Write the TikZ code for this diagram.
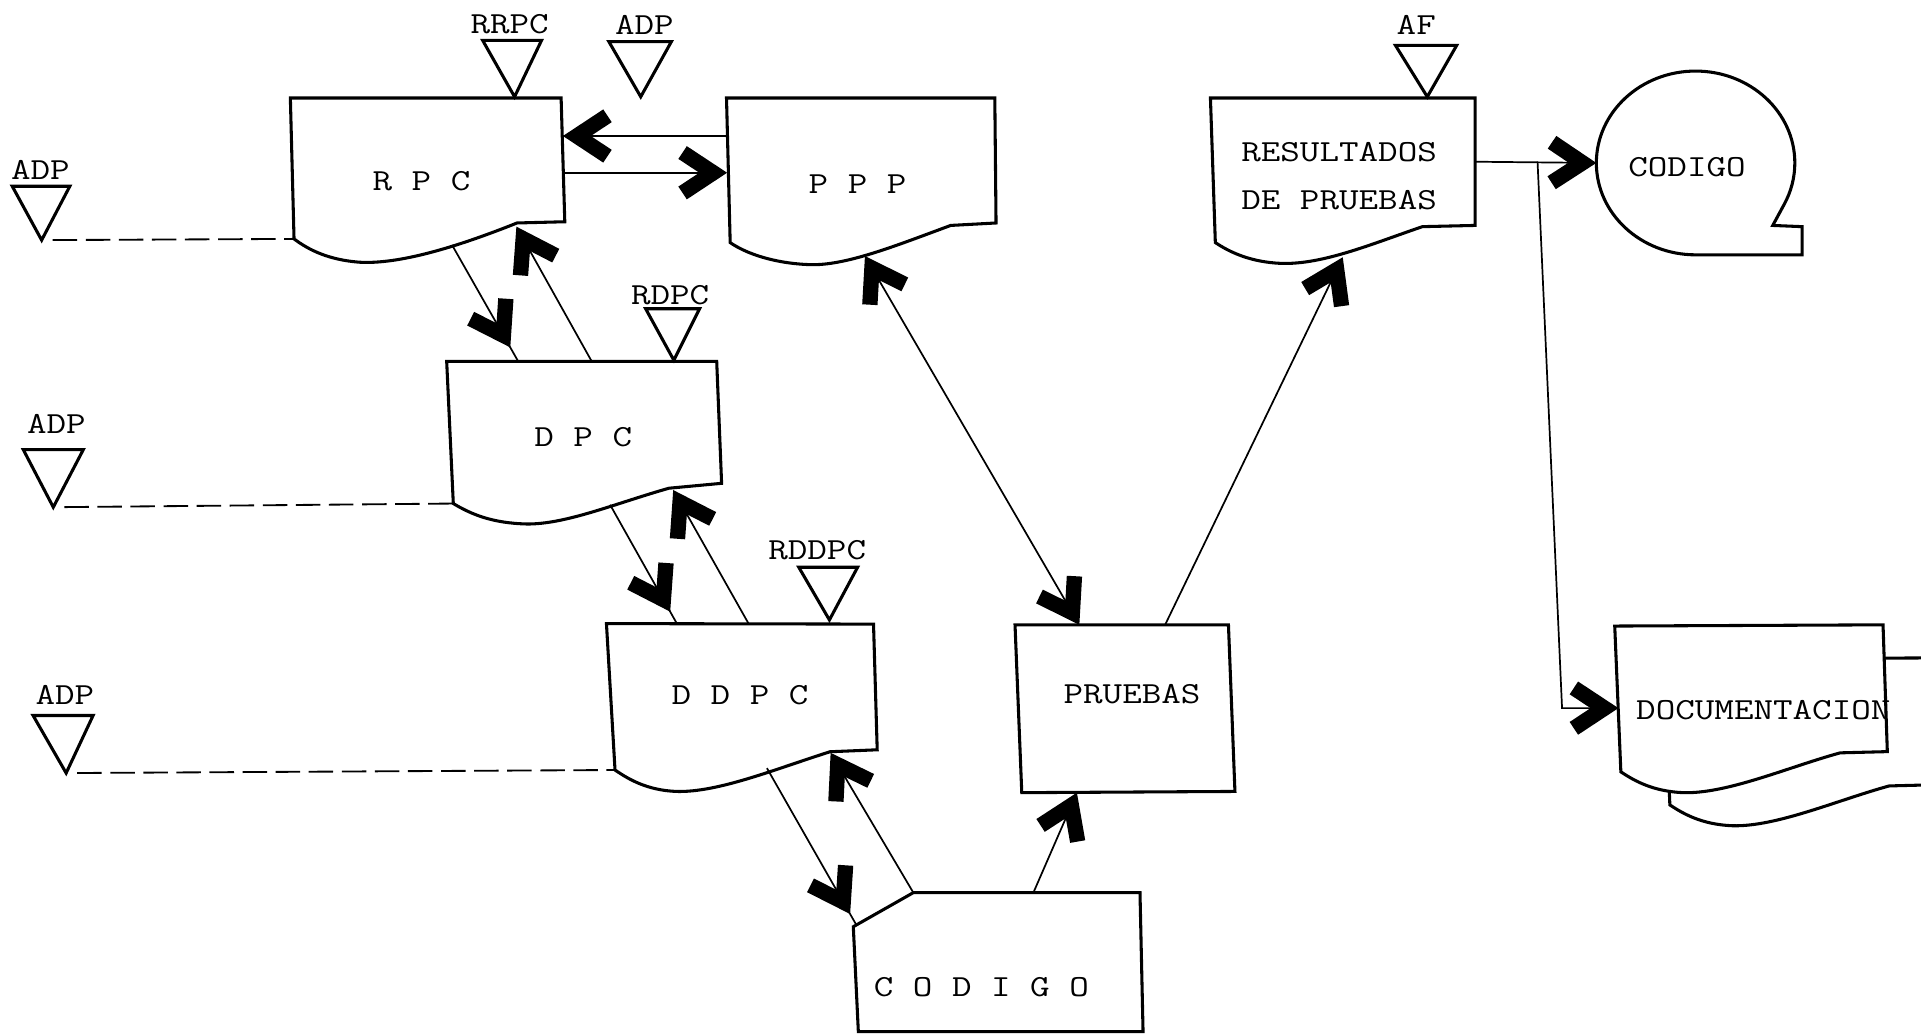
\documentclass[tikz,border=0pt]{standalone}
\usetikzlibrary{arrows.meta,decorations.markings}
\newcommand\stretchtxt[1]{\scalebox{1.24}[1]{#1}}
\tikzset{
  bigtip/.tip={Straight Barb[sharp,length=25pt,width=33pt,line width=12.5pt]},
  docbox/.style={line width=2.5pt, line join=miter, fill=white},
  conn/.style={line width=1.4pt},
  dashln/.style={line width=1.5pt, dash pattern=on 20pt off 7pt, shorten <=9pt},
  tri/.style={line width=2.5pt, line join=miter},
  lbl/.style={font=\fontsize{25}{28}\selectfont\ttfamily, inner sep=0pt},
  txt/.style={font=\fontsize{25}{39}\selectfont\ttfamily, inner sep=0pt, align=left},
  tipat/.style={postaction={decorate}, decoration={markings, mark=at position #1 with {\arrow{bigtip}}}},
}
\begin{document}
\begin{tikzpicture}[x=1pt,y=-1pt]
\useasboundingbox (0,0) rectangle (1568,844);
\clip (0,0) rectangle (1568,844);
\fill[white] (0,0) rectangle (1568,844);

% ---------- document boxes ----------
% RPC
\draw[docbox] (237,80) -- (458,80) -- (461,181) -- (422,182)
  .. controls (372,202) and (325,216) .. (293,214)
  .. controls (268,212) and (252,204) .. (240,195) -- cycle;
\node[txt] (rpc) at (344,148) {\stretchtxt{R P C}};
% PPP
\draw[docbox] (593,80) -- (812,80) -- (813,182) -- (776,184)
  .. controls (730,201) and (690,217) .. (661,216)
  .. controls (632,215) and (609,207) .. (596,198) -- cycle;
\node[txt] (ppp) at (700,150) {\stretchtxt{P P P}};
% RESULTADOS DE PRUEBAS
\draw[docbox] (988,80) -- (1204,80) -- (1204,184) -- (1161,185)
  .. controls (1120,199) and (1080,216) .. (1046,215)
  .. controls (1021,214) and (1004,206) .. (992,198) -- cycle;
\node[txt] (res) at (1093,143.5) {\stretchtxt{RESULTADOS}\\\stretchtxt{DE PRUEBAS}};
% DPC
\draw[docbox] (364.6,295) -- (585,295) -- (589,394.5) -- (546,398.5)
  .. controls (502,411) and (462,428) .. (430,427.7)
  .. controls (402,427) and (385,420) .. (370,411) -- cycle;
\node[txt] (dpc) at (476,356.4) {\stretchtxt{D P C}};
% DDPC
\draw[docbox] (495,509) -- (713,509.4) -- (716,612) -- (677.5,613.6)
  .. controls (632,628) and (586,647) .. (552,646)
  .. controls (528,645) and (513,636) .. (502,628.5) -- cycle;
\node[txt] (ddpc) at (604,567) {\stretchtxt{D D P C}};
% CODIGO (card)
\draw[docbox] (745.5,728.6) -- (930.5,728.6) -- (933,842) -- (700.6,842) -- (696.5,756.4) -- cycle;
\node[txt] (codb) at (801,805.4) {\stretchtxt{C O D I G O}};
% PRUEBAS
\draw[docbox] (828.5,510) -- (1002.7,510) -- (1008,646) -- (834,647) -- cycle;
\node[txt] (pru) at (924,566.7) {\stretchtxt{PRUEBAS}};
% CODIGO (tape)
\draw[docbox] (1384,208) arc[start angle=90, end angle=387, x radius=81, y radius=75]
  -- (1447,184) -- (1471,185) -- (1471,208) -- cycle;
\node[txt] (codc) at (1377,136.7) {\stretchtxt{CODIGO}};
% DOCUMENTACION (multi document)
\begin{scope}[shift={(40,27)}]
\draw[docbox] (1318,511) -- (1537,510) -- (1540.5,613.5) -- (1502,614.5)
  .. controls (1460,626) and (1410,648) .. (1374,647)
  .. controls (1350,646) and (1335,638) .. (1323,630) -- cycle;
\end{scope}
\draw[docbox] (1318,511) -- (1537,510) -- (1540.5,613.5) -- (1502,614.5)
  .. controls (1460,626) and (1410,648) .. (1374,647)
  .. controls (1350,646) and (1335,638) .. (1323,630) -- cycle;
\node[txt] (doc) at (1439.3,579.5) {\stretchtxt{DOCUMENTACION}};

% ---------- triangles and labels ----------
\coordinate (tA) at (34,196);
\draw[tri] (tA) -- ++(-24,-44) -- ++(47,0) -- cycle;
\node[lbl] (lA) at (33,139) {\stretchtxt{ADP}};
\coordinate (tB) at (420,79);
\draw[tri] (tB) -- ++(-26,-46) -- ++(48,0) -- cycle;
\node[lbl] (lB) at (416,20) {\stretchtxt{RRPC}};
\coordinate (tC) at (523,79);
\draw[tri] (tC) -- ++(-26,-45) -- ++(51,0) -- cycle;
\node[lbl] (lC) at (526,20) {\stretchtxt{ADP}};
\coordinate (tD) at (550,294);
\draw[tri] (tD) -- ++(-23,-42) -- ++(44,0) -- cycle;
\node[lbl] (lD) at (547,241) {\stretchtxt{RDPC}};
\coordinate (tE) at (43.5,414);
\draw[tri] (tE) -- ++(-24.5,-47) -- ++(49,0) -- cycle;
\node[lbl] (lE) at (46,346) {\stretchtxt{ADP}};
\coordinate (tF) at (677,506);
\draw[tri] (tF) -- ++(-25,-43) -- ++(48,0) -- cycle;
\node[lbl] (lF) at (667,449) {\stretchtxt{RDDPC}};
\coordinate (tG) at (54,631);
\draw[tri] (tG) -- ++(-27,-47) -- ++(49,0) -- cycle;
\node[lbl] (lG) at (53,567) {\stretchtxt{ADP}};
\coordinate (tH) at (1165,79);
\draw[tri] (tH) -- ++(-26,-42) -- ++(50,0) -- cycle;
\node[lbl] (lH) at (1156,20) {\stretchtxt{AF}};

% ---------- connector end points ----------
\coordinate (rpcR1) at (459.5,111);
\coordinate (rpcR2) at (460.5,141);
\coordinate (pppL1) at (593,111);
\coordinate (pppL2) at (593.5,141);
\coordinate (rpcDn) at (369,200);
\coordinate (rpcUp) at (421.5,185);
\coordinate (rpcBL) at (240,195);
\coordinate (dpcT1) at (423,295);
\coordinate (dpcT2) at (483,295);
\coordinate (dpcDn) at (498,412);
\coordinate (dpcUp) at (549.5,400);
\coordinate (dpcBL) at (370,411);
\coordinate (ddpcT1) at (552.5,509);
\coordinate (ddpcT2) at (611,509);
\coordinate (ddpcDn) at (626,627);
\coordinate (ddpcUp) at (678,614.5);
\coordinate (ddpcBL) at (502,628.5);
\coordinate (codN1) at (699,755);
\coordinate (codN2) at (745.5,728.6);
\coordinate (codT) at (843.5,728.6);
\coordinate (pppB) at (706,209);
\coordinate (pruT1) at (881,510);
\coordinate (pruT2) at (951,510);
\coordinate (pruB) at (879,647);
\coordinate (resB) at (1096,210);
\coordinate (resR) at (1204,132);
\coordinate (circL) at (1303,133);
\coordinate (branch) at (1255,132);
\coordinate (bend) at (1275,578);
\coordinate (docL) at (1321,578);

% ---------- connectors ----------
\draw[conn,-bigtip] (pppL1) -- (rpcR1);
\draw[conn,-bigtip] (rpcR2) -- (pppL2);
\draw[conn,tipat=0.88] (rpcDn) -- (dpcT1);
\draw[conn,-bigtip] (dpcT2) -- (rpcUp);
\draw[conn,tipat=0.9] (dpcDn) -- (ddpcT1);
\draw[conn,-bigtip] (ddpcT2) -- (dpcUp);
\draw[conn,tipat=0.93] (ddpcDn) -- (codN1);
\draw[conn,-bigtip] (codN2) -- (ddpcUp);
\draw[conn,-bigtip] (codT) -- (pruB);
\draw[conn,bigtip-bigtip] (pppB) -- (pruT1);
\draw[conn,-bigtip] (pruT2) -- (resB);
\draw[conn,-bigtip] (resR) -- (circL);
\draw[conn,-bigtip] (branch) -- (bend) -- (docL);

% ---------- dashed lines ----------
\draw[dashln] (tA) -- (rpcBL);
\draw[dashln] (tE) -- (dpcBL);
\draw[dashln] (tG) -- (ddpcBL);
\end{tikzpicture}
\end{document}
